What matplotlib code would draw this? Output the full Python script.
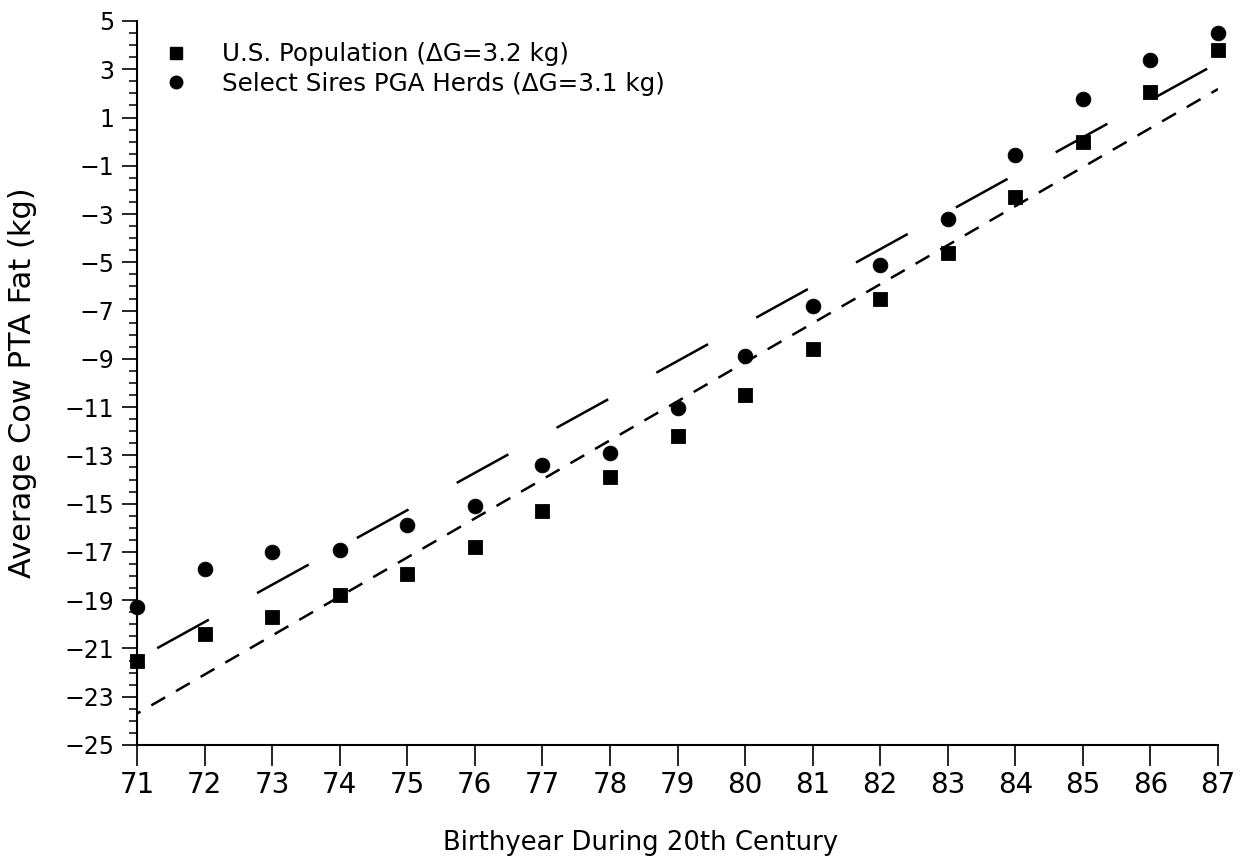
import matplotlib
matplotlib.use("Agg")
import matplotlib.pyplot as plt
from matplotlib.ticker import MultipleLocator, FixedLocator

# Average cow PTA fat (kg) by birth year
years = list(range(71, 88))
us_population = [-21.5, -20.4, -19.7, -18.8, -17.9, -16.8, -15.3, -13.9, -12.2,
                 -10.5, -8.6, -6.5, -4.6, -2.3, 0.0, 2.05, 3.8]
select_sires = [-19.3, -17.7, -17.0, -16.9, -15.9, -15.1, -13.4, -12.9, -11.05,
                -8.9, -6.8, -5.1, -3.2, -0.55, 1.75, 3.4, 4.5]

# Fitted trend lines (end points)
trend_years = [71, 87]
trend_upper = [-21.45, 3.27]
trend_lower = [-23.7, 2.18]

y_ticks = list(range(-25, 6, 2))

us_label = "U.S. Population (\u0394G=3.2 kg)"
ss_label = "Select Sires PGA Herds (\u0394G=3.1 kg)"

plt.rcParams["font.family"] = ["DejaVu Sans"]
plt.rcParams["lines.scale_dashes"] = False

fig = plt.figure(figsize=(12.53, 8.66), dpi=100)
ax = fig.add_axes([137 / 1253, 1 - 745 / 866, (1218 - 137) / 1253, (745 - 21) / 866])

ax.plot(trend_years, trend_upper, color="black", lw=1.8,
        linestyle=(65.5, (42.5, 39.6)), dash_capstyle="butt")
ax.plot(trend_years, trend_lower, color="black", lw=1.8,
        linestyle=(8.6, (11.5, 9.0)), dash_capstyle="butt")

ax.plot(years, us_population, linestyle="none", marker="s", ms=10.4, mfc="black",
        mec="black", mew=0.6, clip_on=False, zorder=3)
ax.plot(years, select_sires, linestyle="none", marker="o", ms=10.6, mfc="black",
        mec="black", mew=0.6, clip_on=False, zorder=3)

ax.set_xlim(71, 87)
ax.set_ylim(-25, 5)
ax.xaxis.set_major_locator(FixedLocator(years))
ax.yaxis.set_major_locator(FixedLocator(y_ticks))
ax.yaxis.set_minor_locator(MultipleLocator(0.5))

ax.spines["top"].set_visible(False)
ax.spines["right"].set_visible(False)
for s in ("left", "bottom"):
    ax.spines[s].set_linewidth(1.5)

ax.tick_params(axis="x", which="major", direction="out", length=15, width=1.2,
               labelsize=20, pad=4)
ax.tick_params(axis="y", which="major", direction="out", length=10.5, width=1.2,
               labelsize=17, pad=6)
ax.tick_params(axis="y", which="minor", direction="out", length=5.5, width=1.1)
ax.set_yticklabels([f"{v}".replace("-", "\u2212") for v in y_ticks])

fig.text(23 / 1253, 1 - 383 / 866, "Average Cow PTA Fat (kg)", rotation=90,
         ha="center", va="center", fontsize=22)
fig.text(641 / 1253, 1 - 843 / 866, "Birthyear During 20th Century",
         ha="center", va="center", fontsize=18.6)

# Legend drawn as markers and text in figure coordinates
fig.lines.append(plt.Line2D([176 / 1253], [1 - 53 / 866], marker="s", ms=8.5,
                            color="black", transform=fig.transFigure))
fig.lines.append(plt.Line2D([176 / 1253], [1 - 82 / 866], marker="o", ms=9,
                            color="black", transform=fig.transFigure))
fig.text(222 / 1253, 1 - 54 / 866, us_label, ha="left", va="center", fontsize=17.7)
fig.text(222 / 1253, 1 - 84 / 866, ss_label, ha="left", va="center", fontsize=17.7)

fig.savefig("out.png", dpi=100, facecolor="white")
